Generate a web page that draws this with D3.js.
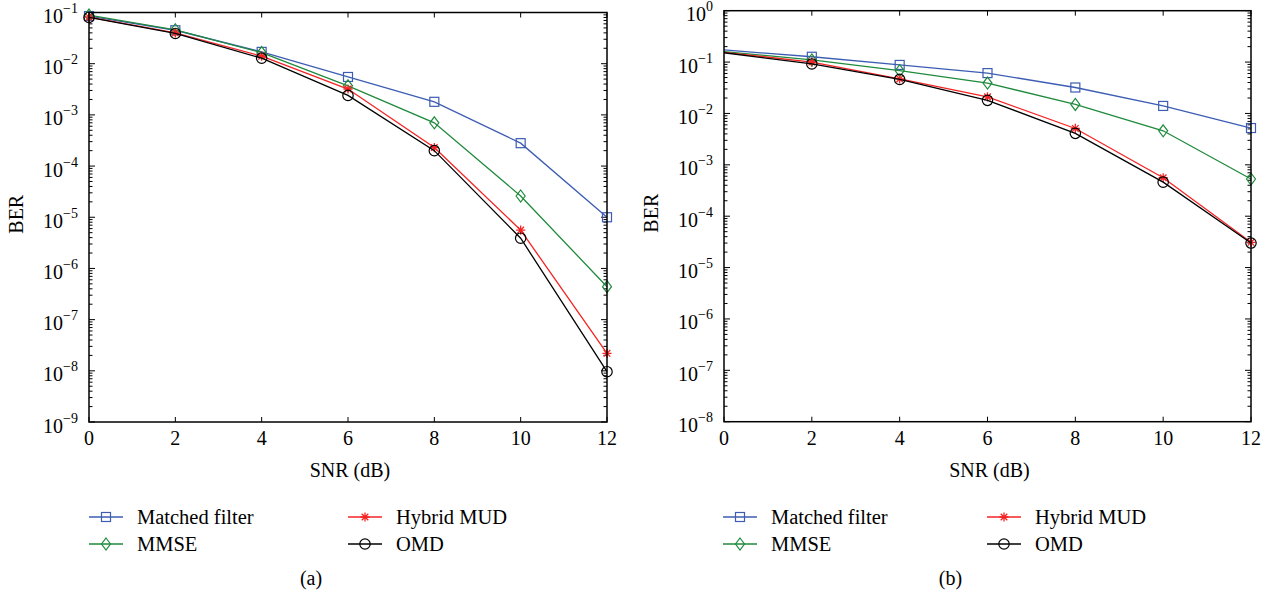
<!DOCTYPE html>
<html>
<head>
<meta charset="utf-8">
<script src="https://cdn.jsdelivr.net/npm/d3@7"></script>
<style>
  body { margin: 0; background: #fff; }
  text { font-family: "Liberation Serif", "Times New Roman", serif; fill: #000; }
</style>
</head>
<body>
<svg id="fig" width="1272" height="597"></svg>
<script>
// SNR sweep (dB)
const snr = [0, 2, 4, 6, 8, 10, 12];
const xTickValues = [0, 2, 4, 6, 8, 10, 12];

// Panel (a): BER per detector
const matchedA = [0.085, 0.045, 0.017, 0.0055, 0.0018, 0.00028, 0.00001];
const mmseA    = [0.089, 0.046, 0.0165, 0.0037, 0.0007, 0.000026, 4.4e-7];
const hybridA  = [0.081, 0.040, 0.014, 0.0032, 0.00023, 5.6e-6, 2.2e-8];
const omdA     = [0.080, 0.039, 0.0128, 0.0024, 0.0002, 3.9e-6, 9.6e-9];

// Panel (b): BER per detector
const matchedB = [0.172, 0.127, 0.088, 0.061, 0.032, 0.014, 0.0052];
const mmseB    = [0.160, 0.110, 0.068, 0.039, 0.015, 0.0046, 0.00053];
const hybridB  = [0.155, 0.100, 0.047, 0.021, 0.0051, 0.00056, 0.000031];
const omdB     = [0.152, 0.092, 0.046, 0.018, 0.0041, 0.00046, 0.00003];

// Axis decades (exponents) and labels
const decadesA = [-9, -8, -7, -6, -5, -4, -3, -2, -1];
const decadesB = [-8, -7, -6, -5, -4, -3, -2, -1, 0];
const seriesNames = ["Matched filter", "MMSE", "Hybrid MUD", "OMD"];
const panelTags = ["(a)", "(b)"];
const xTitle = "SNR (dB)";
const yTitle = "BER";

// Styling per series
const seriesStyle = [
  { color: "#3d5db3", marker: "square" },
  { color: "#1f8a3c", marker: "diamond" },
  { color: "#f42424", marker: "star" },
  { color: "#000000", marker: "circle" }
];

const panels = [
  { left: 89, right: 607, top: 12.5, bottom: 422, decades: decadesA,
    data: [matchedA, mmseA, hybridA, omdA], tag: panelTags[0],
    legendX: 89, legendCol2: 259, markFirst: true },
  { left: 724, right: 1251, top: 10.7, bottom: 421.7, decades: decadesB,
    data: [matchedB, mmseB, hybridB, omdB], tag: panelTags[1],
    legendX: 723, legendCol2: 264, markFirst: false }
];

const svg = d3.select("#fig");

function drawMarker(g, type, x, y, color) {
  if (type === "square") {
    g.append("rect").attr("x", x - 4.5).attr("y", y - 4.5).attr("width", 9).attr("height", 9)
      .attr("fill", "none").attr("stroke", color).attr("stroke-width", 1.2);
  } else if (type === "diamond") {
    g.append("path").attr("d", `M${x},${y - 6}L${x + 4.5},${y}L${x},${y + 6}L${x - 4.5},${y}Z`)
      .attr("fill", "none").attr("stroke", color).attr("stroke-width", 1.2);
  } else if (type === "circle") {
    g.append("circle").attr("cx", x).attr("cy", y).attr("r", 5.2)
      .attr("fill", "none").attr("stroke", color).attr("stroke-width", 1.2);
  } else if (type === "star") {
    const r = 4.6, d = r * 0.72;
    g.append("path")
      .attr("d", `M${x - r},${y}H${x + r}M${x},${y - r}V${y + r}M${x - d},${y - d}L${x + d},${y + d}M${x - d},${y + d}L${x + d},${y - d}`)
      .attr("stroke", color).attr("stroke-width", 1.3).attr("fill", "none");
  }
}

panels.forEach(p => {
  const g = svg.append("g");
  const dMin = d3.min(p.decades), dMax = d3.max(p.decades);
  const x = d3.scaleLinear().domain([0, 12]).range([p.left, p.right]);
  const y = d3.scaleLog().domain([Math.pow(10, dMin), Math.pow(10, dMax)]).range([p.bottom, p.top]);

  // minor and major log ticks on left and right sides, pointing inward
  const minor = [];
  for (let e = dMin; e < dMax; e++) {
    for (let m = 2; m <= 9; m++) minor.push(m * Math.pow(10, e));
  }
  const tickG = g.append("g").attr("stroke", "#000").attr("stroke-width", 1);
  minor.forEach(v => {
    const yy = y(v);
    tickG.append("line").attr("x1", p.left).attr("x2", p.left + 3.5).attr("y1", yy).attr("y2", yy);
    tickG.append("line").attr("x1", p.right).attr("x2", p.right - 3.5).attr("y1", yy).attr("y2", yy);
  });
  p.decades.forEach(e => {
    const yy = y(Math.pow(10, e));
    tickG.append("line").attr("x1", p.left).attr("x2", p.left + 6).attr("y1", yy).attr("y2", yy);
    tickG.append("line").attr("x1", p.right).attr("x2", p.right - 6).attr("y1", yy).attr("y2", yy);
  });
  xTickValues.forEach(v => {
    const xx = x(v);
    tickG.append("line").attr("x1", xx).attr("x2", xx).attr("y1", p.bottom).attr("y2", p.bottom - 5);
    tickG.append("line").attr("x1", xx).attr("x2", xx).attr("y1", p.top).attr("y2", p.top + 5);
  });

  // y tick labels 10^e
  p.decades.forEach(e => {
    const yy = y(Math.pow(10, e));
    const t = g.append("text").attr("text-anchor", "end")
      .attr("x", p.left - 11).attr("y", yy + 10.5).attr("font-size", 20);
    t.append("tspan").text("10");
    t.append("tspan").attr("dy", -10).attr("font-size", 14).text(e < 0 ? "\u2212" + (-e) : String(e));
  });

  // x tick labels
  xTickValues.forEach(v => {
    g.append("text").attr("text-anchor", "middle").attr("x", x(v)).attr("y", p.bottom + 23)
      .attr("font-size", 20).text(v);
  });

  // axis titles
  g.append("text").attr("text-anchor", "middle").attr("x", (p.left + p.right) / 2 + 2)
    .attr("y", p.bottom + 55).attr("font-size", 20).text(xTitle);
  g.append("text").attr("text-anchor", "middle")
    .attr("transform", `translate(${p.left - 66},${(p.top + p.bottom) / 2 - 3}) rotate(-90)`)
    .attr("font-size", 20).text(yTitle);

  // series lines and markers
  const line = d3.line().x((d, i) => x(snr[i])).y(d => y(d));
  p.data.forEach((vals, si) => {
    const st = seriesStyle[si];
    const sg = g.append("g");
    sg.append("path").datum(vals).attr("d", line).attr("fill", "none")
      .attr("stroke", st.color).attr("stroke-width", 1.3);
    vals.forEach((v, i) => {
      if (i === 0 && !p.markFirst) return;
      drawMarker(sg, st.marker, x(snr[i]), y(v), st.color);
    });
  });

  // frame
  g.append("rect").attr("x", p.left).attr("y", p.top).attr("width", p.right - p.left)
    .attr("height", p.bottom - p.top).attr("fill", "none").attr("stroke", "#000").attr("stroke-width", 1.5);

  // legend: two columns, two rows
  const rows = [517, 544];
  seriesNames.forEach((name, si) => {
    const col = si < 2 ? 0 : 1;
    const row = si % 2;
    const lx = p.legendX + (col === 1 ? p.legendCol2 : 0);
    const ly = rows[row];
    const st = seriesStyle[si];
    g.append("line").attr("x1", lx).attr("x2", lx + 34).attr("y1", ly).attr("y2", ly)
      .attr("stroke", st.color).attr("stroke-width", 1.3);
    drawMarker(g, st.marker, lx + 17, ly, st.color);
    g.append("text").attr("x", lx + 48).attr("y", ly + 7).attr("font-size", 20.5).text(name);
  });

  // panel tag
  g.append("text").attr("text-anchor", "middle").attr("x", (p.left + p.right) / 2 - 37)
    .attr("y", 585).attr("font-size", 20).text(p.tag);
});
</script>
</body>
</html>
